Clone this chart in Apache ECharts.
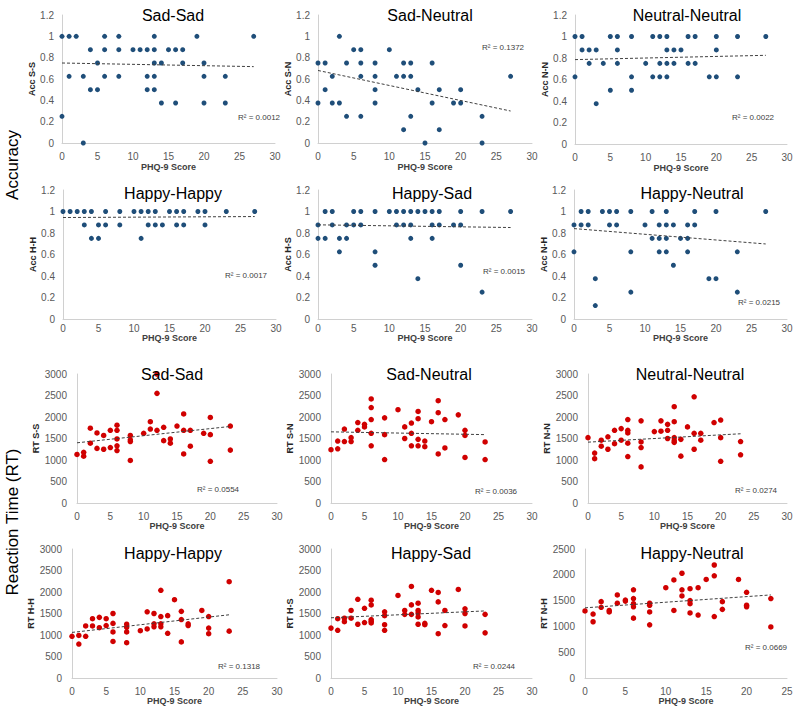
<!DOCTYPE html>
<html><head><meta charset="utf-8">
<script src="https://cdn.jsdelivr.net/npm/echarts@6/dist/echarts.min.js"></script>
<style>html,body{margin:0;padding:0;background:#fff}#c{width:800px;height:713px}</style>
</head><body><div id="c"></div>
<script>
// ---------- DATA ----------
const xTitle = 'PHQ-9 Score';
const rowLabels = ['Accuracy', 'Reaction Time (RT)'];
const panelTitles = ['Sad-Sad','Sad-Neutral','Neutral-Neutral','Happy-Happy','Happy-Sad','Happy-Neutral',
                     'Sad-Sad','Sad-Neutral','Neutral-Neutral','Happy-Happy','Happy-Sad','Happy-Neutral'];
const yNames = ['Acc S-S','Acc S-N','Acc N-N','Acc H-H','Acc H-S','Acc N-H',
                'RT S-S','RT S-N','RT N-N','RT H-H','RT H-S','RT N-H'];
const r2Texts = ['R² = 0.0012','R² = 0.1372','R² = 0.0022','R² = 0.0017','R² = 0.0015','R² = 0.0215',
                 'R² = 0.0554','R² = 0.0036','R² = 0.0274','R² = 0.1318','R² = 0.0244','R² = 0.0669'];

const accSS = [[0,1],[1,1],[2,1],[6,1],[8,1],[13,1],[19,1],[27,1],
 [4,.875],[6,.875],[8,.875],[10,.875],[11,.875],[12,.875],[13,.875],[15,.875],[16,.875],[17,.875],
 [5,.75],[13,.75],[14,.75],[17,.75],[20,.75],
 [1,.625],[3,.625],[6,.625],[8,.625],[12,.625],[13,.625],[20,.625],[23,.625],
 [4,.5],[5,.5],[12,.5],[13,.5],
 [14,.375],[16,.375],[20,.375],[23,.375],
 [0,.25],[3,0]];
const accSN = [[3,1],
 [5,.875],[6,.875],[10,.875],
 [0,.75],[1,.75],[4,.75],[6,.75],[8,.75],[12,.75],[13,.75],[16,.75],
 [2,.625],[6,.625],[8,.625],[11,.625],[12,.625],[13,.625],[27,.625],
 [1,.5],[8,.5],[14,.5],[17,.5],[20,.5],
 [0,.375],[2,.375],[3,.375],[8,.375],[16,.375],[19,.375],[20,.375],
 [4,.25],[6,.25],[13,.25],[23,.25],
 [12,.125],[17,.125],
 [15,0],[23,0]];
const accNN = [[0,1],[1,1],[5,1],[6,1],[8,1],[11,1],[12,1],[13,1],[16,1],[17,1],[20,1],[23,1],[27,1],
 [1,.875],[2,.875],[3,.875],[6,.875],[13,.875],[14,.875],[15,.875],[20,.875],
 [2,.75],[4,.75],[6,.75],[10,.75],[12,.75],[13,.75],[14,.75],[16,.75],[17,.75],
 [0,.625],[8,.625],[11,.625],[12,.625],[13,.625],[19,.625],[20,.625],[23,.625],
 [5,.5],[8,.5],
 [3,.375]];
const accHH = [[0,1],[1,1],[2,1],[3,1],[4,1],[6,1],[8,1],[10,1],[11,1],[12,1],[13,1],[15,1],[16,1],[17,1],[19,1],[20,1],[23,1],[27,1],
 [3,.875],[5,.875],[6,.875],[8,.875],[12,.875],[13,.875],[14,.875],[16,.875],[17,.875],[20,.875],
 [4,.75],[5,.75],[11,.75]];
const accHS = [[1,1],[2,1],[5,1],[6,1],[8,1],[10,1],[11,1],[12,1],[13,1],[14,1],[15,1],[16,1],[17,1],[20,1],[23,1],[27,1],
 [0,.875],[2,.875],[4,.875],[5,.875],[6,.875],[11,.875],[12,.875],[13,.875],[16,.875],[17,.875],[19,.875],[20,.875],
 [0,.75],[1,.75],[3,.75],[4,.75],[13,.75],[16,.75],
 [3,.625],[8,.625],
 [8,.5],[20,.5],
 [14,.375],
 [23,.25]];
const accNH = [[1,1],[2,1],[4,1],[5,1],[6,1],[8,1],[11,1],[13,1],[17,1],[20,1],[27,1],
 [0,.875],[1,.875],[2,.875],[5,.875],[6,.875],[10,.875],[12,.875],[13,.875],[14,.875],[16,.875],[17,.875],
 [11,.75],[12,.75],[13,.75],[15,.75],[16,.75],
 [0,.625],[8,.625],[12,.625],[13,.625],[16,.625],[23,.625],
 [14,.5],
 [3,.375],[19,.375],[20,.375],
 [8,.25],[23,.25],
 [3,.125]];

const rtSS = [[0,1130],[1,1180],[1,1090],[2,1740],[2,1390],[3,1630],[3,1270],[4,1570],[4,1250],[5,1690],[5,1290],
 [6,1810],[6,1690],[6,1490],[6,1330],[6,1220],[8,1570],[8,1470],[8,1430],[8,990],[10,1620],[11,1890],[11,1720],
 [12,2550],[12,1690],[12,3000],[13,1760],[13,1450],[14,1490],[14,1390],[15,1790],[16,2070],[16,1690],[16,1140],
 [17,1690],[17,1320],[19,1620],[20,1990],[20,1590],[20,970],[23,1790],[23,1230]];
const rtSN = [[0,1240],[1,1440],[1,1260],[2,1720],[2,1430],[3,1520],[3,1430],[4,1870],[4,1690],[5,1830],[5,1770],
 [6,2420],[6,2220],[6,1940],[6,1620],[6,1330],[8,1980],[8,1590],[8,1010],[10,2170],[11,1770],[11,1500],
 [12,1860],[12,1620],[12,1330],[13,2130],[13,1960],[13,1480],[13,1330],[14,1440],[14,1310],[15,1890],
 [16,2380],[16,2100],[16,1140],[17,1940],[17,1280],[19,2050],[20,1690],[20,1570],[20,1060],[23,1420],[23,1010]];
const rtNN = [[0,1520],[1,1160],[1,1030],[2,1460],[2,1320],[3,1540],[3,1250],[4,1690],[4,1380],[5,1730],[5,1460],
 [6,1940],[6,1690],[6,1630],[6,1390],[6,1080],[8,1910],[8,1420],[8,1290],[8,840],[10,1660],[11,1910],[11,1670],
 [12,1830],[12,1690],[12,1500],[13,2240],[13,1890],[13,1520],[13,1450],[13,1410],[14,1480],[14,1090],[15,1770],
 [16,2470],[16,1620],[16,1250],[17,1620],[17,1460],[19,1870],[20,1930],[20,1520],[20,970],[23,1430],[23,1120]];
const rtHH = [[0,970],[1,990],[1,790],[2,1210],[2,970],[3,1380],[3,1210],[4,1410],[4,1170],[5,1380],[5,1220],
 [6,1500],[6,1270],[6,1070],[6,850],[8,1250],[8,1180],[8,1070],[8,820],[10,1100],[11,1540],[11,1140],
 [12,1500],[12,1260],[12,1190],[13,2040],[13,1430],[13,1260],[13,1190],[14,1450],[14,1040],[15,1820],
 [16,1550],[16,1360],[16,840],[17,1260],[17,1220],[19,1570],[20,1430],[20,1160],[20,1030],[23,2240],[23,1090]];
const rtHS = [[0,1160],[1,1110],[1,1380],[2,1390],[2,1310],[3,1570],[3,1390],[4,1830],[4,1250],[5,1620],[5,1290],
 [6,1810],[6,1700],[6,1360],[6,1320],[6,1280],[8,1540],[8,1450],[8,1240],[8,1110],[10,1920],[11,1570],[11,1480],
 [12,2130],[12,1700],[12,1480],[13,1740],[13,1570],[13,1510],[13,1420],[13,1250],[14,1270],[14,1240],[15,2040],
 [16,1990],[16,1770],[16,1030],[17,1570],[17,1220],[19,2060],[20,1610],[20,1500],[20,1210],[23,1480],[23,1050]];
const rtNH = [[0,1300],[1,1240],[1,1090],[2,1480],[2,1370],[3,1310],[3,1280],[4,1610],[4,1450],[5,1510],[5,1490],
 [6,1710],[6,1540],[6,1440],[6,1380],[6,1160],[8,1450],[8,1410],[8,1280],[8,1030],[10,1750],[11,1900],[11,1310],
 [12,2030],[12,1710],[12,1590],[13,1730],[13,1500],[13,1440],[13,1260],[14,1750],[14,1220],[15,1910],
 [16,2190],[16,1980],[16,1190],[17,1480],[17,1330],[19,1910],[20,1660],[20,1410],[20,1380],[23,1540],[23,990]];

// trend line end values (y at x start, y at x end)
const trendAcc = [[0.75,0.716],[0.68,0.30],[0.785,0.825],[0.944,0.953],[0.876,0.851],[0.841,0.698]];
const trendRT  = [[1400,1780],[1655,1590],[1415,1610],[1060,1470],[1400,1560],[1360,1610]];
const trendXAcc = [0, 27];
const trendXRT  = [0, 23];

const xMaxes = [30,30,30,30,30,30,30,30,30,30,30,25];
const yMaxes = [1.2,1.2,1.2,1.2,1.2,1.2,3000,3000,3000,3000,3000,2500];
const yIntervals = [0.2,0.2,0.2,0.2,0.2,0.2,500,500,500,500,500,500];

// ---------- LAYOUT ----------
const allData = [accSS,accSN,accNN,accHH,accHS,accNH,rtSS,rtSN,rtNN,rtHH,rtHS,rtNH];
const grids = [
  [62,15,213,128],[318,15,214,128],[575,15,212,129],
  [63,190,213,129],[318,190,214,129],[574,190,213,129],
  [77,374,200,129],[331,374,201,129],[588,374,199,129],
  [72,549,205,129],[331,549,201,129],[585,549,202,129]];
const titlePos = [[173,15],[430,15],[687,15],[173,193],[432,193],[692,193],
                  [172,374],[429,374],[690,374],[173,553],[431,553],[692,553]];
const r2Pos = [[238,117],[482,47],[732,117],[225,275],[483,271],[738,302],
               [197,489],[475,491],[735,490],[218,666],[473,666],[745,647]];
const xLabelMargin = [8,8,8,4,4,4,8,8,8,8,8,8];
const xNameGap = [19,19,19,14,14,14,18,18,18,18,18,18];
const yNameGap = [20,20,20,20,20,20,32,32,32,28,28,30];

const FONT = '"Liberation Sans", Arial, sans-serif';
const chart = echarts.init(document.getElementById('c'), null, {renderer:'svg'});

const gridOpt=[], xAxes=[], yAxes=[], series=[], graphics=[];
for (let i=0;i<12;i++){
  const g = grids[i];
  const isAcc = i<6;
  gridOpt.push({left:g[0], top:g[1], width:g[2], height:g[3], containLabel:false});
  xAxes.push({type:'value', gridIndex:i, min:0, max:xMaxes[i], interval:5,
    name:xTitle, nameLocation:'middle', nameGap:xNameGap[i],
    nameTextStyle:{fontFamily:FONT, fontSize:9, fontWeight:'bold', color:'#404040'},
    axisLine:{show:true, lineStyle:{color:'#D0D0D0', width:1}}, axisTick:{show:false},
    splitLine:{show:false},
    axisLabel:{fontFamily:FONT, fontSize:10, color:'#595959', margin:xLabelMargin[i]}});
  yAxes.push({type:'value', gridIndex:i, min:0, max:yMaxes[i], interval:yIntervals[i],
    name:yNames[i], nameLocation:'middle', nameGap:yNameGap[i],
    nameTextStyle:{fontFamily:FONT, fontSize:9, fontWeight:'bold', color:'#262626'},
    axisLine:{show:true, lineStyle:{color:'#D0D0D0', width:1}}, axisTick:{show:false},
    splitLine:{show:false},
    axisLabel:{fontFamily:FONT, fontSize:10, color:'#595959', margin: isAcc?8:10,
      formatter: v => String(Math.round(v*1000)/1000)}});
  series.push({type:'scatter', xAxisIndex:i, yAxisIndex:i, data:allData[i],
    symbol:'circle', symbolSize: isAcc?5:5.5,
    itemStyle:{color: isAcc?'#1F4E79':'#D00000', opacity:1}, silent:true, z:2});
  const tr = isAcc ? trendAcc[i] : trendRT[i-6];
  const tx = isAcc ? trendXAcc : trendXRT;
  series.push({type:'line', xAxisIndex:i, yAxisIndex:i, data:[[tx[0],tr[0]],[tx[1],tr[1]]],
    symbol:'none', lineStyle:{color:'#404040', width:1, type:[3,2]}, silent:true, z:3});
  graphics.push({type:'text', x:titlePos[i][0], y:titlePos[i][1], z:10,
    style:{text:panelTitles[i], fill:'#000', font:'16px '+FONT, textAlign:'center', textVerticalAlign:'middle'}});
  graphics.push({type:'text', x:r2Pos[i][0], y:r2Pos[i][1], z:10,
    style:{text:r2Texts[i], fill:'#404040', font:'8px '+FONT, textAlign:'left', textVerticalAlign:'middle'}});
}
graphics.push({type:'text', x:12, y:165, rotation:Math.PI/2, z:10,
  style:{text:rowLabels[0], fill:'#000', font:'17px '+FONT, textAlign:'center', textVerticalAlign:'middle'}});
graphics.push({type:'text', x:12, y:522, rotation:Math.PI/2, z:10,
  style:{text:rowLabels[1], fill:'#000', font:'17px '+FONT, textAlign:'center', textVerticalAlign:'middle'}});

chart.setOption({animation:false, backgroundColor:'#fff',
  grid:gridOpt, xAxis:xAxes, yAxis:yAxes, series:series, graphic:graphics});
</script></body></html>
